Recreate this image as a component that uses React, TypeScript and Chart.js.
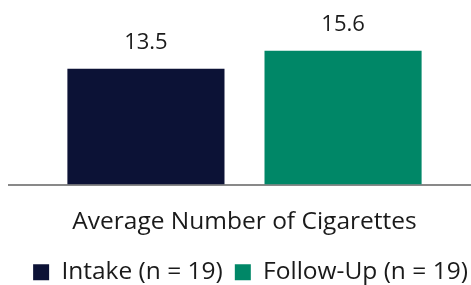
import React, { useEffect, useRef } from "react";
import { Chart, registerables } from "chart.js";

Chart.register(...registerables);

const categories = ["Average Number of Cigarettes"];
const seriesNames = ["Intake (n = 19)", "Follow-Up (n = 19)"];
const intakeValues = [13.5];
const followUpValues = [15.6];
const seriesColors = ["#0C1236", "#008767"];

const FONT = "'Open Sans'";
const TEXT_COLOR = "#1a1a1a";

const valueLabels = {
  id: "valueLabels",
  afterDatasetsDraw(chart: any) {
    const ctx = chart.ctx;
    ctx.save();
    ctx.font = `22px ${FONT}`;
    ctx.fillStyle = TEXT_COLOR;
    ctx.textAlign = "center";
    ctx.textBaseline = "alphabetic";
    chart.data.datasets.forEach((ds: any, i: number) => {
      const meta = chart.getDatasetMeta(i);
      meta.data.forEach((bar: any, j: number) => {
        const v = ds.data[j];
        ctx.fillText(v.toFixed(1), bar.x, bar.y - 20);
      });
    });
    ctx.restore();
  },
};

const legendShift = {
  id: "legendShift",
  afterLayout(chart: any) {
    const l = chart.legend;
    if (l) {
      l.left += 6;
      l.right += 6;
    }
  },
};

export default function App() {
  const ref = useRef<HTMLCanvasElement | null>(null);
  useEffect(() => {
    document.body.style.margin = "0";
    const chart = new Chart(ref.current!, {
      type: "bar",
      data: {
        labels: categories,
        datasets: [
          { label: seriesNames[0], data: intakeValues, backgroundColor: seriesColors[0] },
          { label: seriesNames[1], data: followUpValues, backgroundColor: seriesColors[1] },
        ],
      },
      options: {
        animation: false,
        responsive: false,
        maintainAspectRatio: false,
        layout: { padding: { left: 9, right: 0, top: 13, bottom: 5.5 } },
        datasets: {
          bar: { categoryPercentage: 0.837, barPercentage: 0.797 },
        },
        scales: {
          x: {
            grid: { display: false, drawTicks: false },
            border: { display: true, color: "#898989", width: 2 },
            ticks: { color: TEXT_COLOR, font: { family: FONT, size: 24.5 }, padding: 23 },
            afterFit: (scale: any) => {
              scale.height -= 11.9;
            },
          },
          y: { display: false, min: 0, max: 20 },
        },
        plugins: {
          legend: {
            position: "bottom",
            labels: {
              boxWidth: 16,
              boxHeight: 16,
              padding: 12,
              color: TEXT_COLOR,
              font: { family: FONT, size: 24.5 },
            },
          },
          tooltip: { enabled: false },
        },
      },
      plugins: [valueLabels, legendShift],
    });
    return () => chart.destroy();
  }, []);
  return (
    <div style={{ position: "absolute", left: 0, top: 0, width: 471, height: 285, overflow: "hidden" }}>
      <canvas ref={ref} width={480} height={300} style={{ width: 480, height: 300, display: "block" }} />
    </div>
  );
}
